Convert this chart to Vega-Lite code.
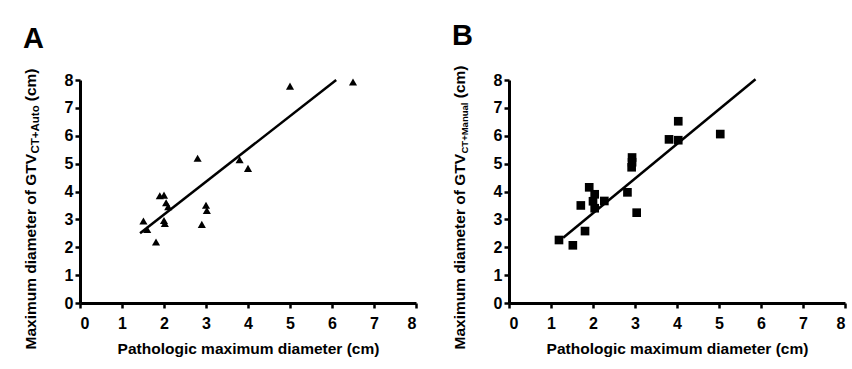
{
  "$schema": "https://vega.github.io/schema/vega-lite/v6.json",
  "background": "white",
  "padding": {"left": 23, "top": 22, "right": 0, "bottom": 0},
  "datasets": {
    "autoPts": [
      {"path": 5.0, "gtv": 7.78}, {"path": 6.5, "gtv": 7.93}, {"path": 2.8, "gtv": 5.19},
      {"path": 3.8, "gtv": 5.14}, {"path": 4.0, "gtv": 4.83}, {"path": 1.9, "gtv": 3.85},
      {"path": 2.0, "gtv": 3.87}, {"path": 2.05, "gtv": 3.6}, {"path": 2.1, "gtv": 3.45},
      {"path": 3.0, "gtv": 3.51}, {"path": 3.02, "gtv": 3.32}, {"path": 2.9, "gtv": 2.82},
      {"path": 1.51, "gtv": 2.94}, {"path": 1.6, "gtv": 2.64}, {"path": 2.0, "gtv": 2.96},
      {"path": 2.02, "gtv": 2.85}, {"path": 1.81, "gtv": 2.19}
    ],
    "autoFit": [{"path": 1.43, "gtv": 2.5}, {"path": 6.1, "gtv": 8.0}],
    "manPts": [
      {"path": 1.19, "gtv": 2.26}, {"path": 1.52, "gtv": 2.07}, {"path": 1.81, "gtv": 2.58},
      {"path": 1.71, "gtv": 3.5}, {"path": 1.91, "gtv": 4.15}, {"path": 2.04, "gtv": 3.9},
      {"path": 2.0, "gtv": 3.65}, {"path": 2.04, "gtv": 3.4}, {"path": 2.27, "gtv": 3.66},
      {"path": 2.82, "gtv": 3.97}, {"path": 3.04, "gtv": 3.24}, {"path": 2.93, "gtv": 5.22},
      {"path": 2.93, "gtv": 5.05}, {"path": 2.92, "gtv": 4.87}, {"path": 3.81, "gtv": 5.87},
      {"path": 4.03, "gtv": 5.84}, {"path": 4.03, "gtv": 6.52}, {"path": 5.03, "gtv": 6.06}
    ],
    "manFit": [{"path": 1.29, "gtv": 2.34}, {"path": 5.87, "gtv": 8.03}]
  },
  "config": {
    "view": {"stroke": null},
    "font": "Liberation Sans",
    "axis": {
      "grid": false,
      "labelOverlap": false,
      "domainColor": "black",
      "domainWidth": 3,
      "tickColor": "black",
      "tickWidth": 2.5,
      "tickSize": 5,
      "labelFont": "Liberation Sans",
      "labelFontWeight": "bold",
      "labelFontSize": 16,
      "labelColor": "black",
      "titleFont": "Liberation Sans",
      "titleFontWeight": "bold",
      "titleFontSize": 15.5,
      "titleColor": "black"
    },
    "axisX": {"labelPadding": 7, "titlePadding": 10},
    "title": {"font": "Liberation Sans", "fontWeight": "bold", "fontSize": 29, "color": "black", "anchor": "start", "frame": "bounds", "offset": 14}
  },
  "spacing": 34,
  "hconcat": [
    {
      "width": 336,
      "height": 223,
      "title": {"text": "A"},
      "resolve": {"scale": {"y": "shared"}, "axis": {"y": "independent"}},
      "layer": [
        {
          "data": {"name": "autoPts"},
          "mark": {"type": "point", "shape": "triangle-up", "filled": true, "color": "black", "opacity": 1, "size": 66},
          "encoding": {
            "x": {"field": "path", "type": "quantitative", "scale": {"domain": [0, 8], "nice": false}, "axis": {"values": [0,1,2,3,4,5,6,7,8], "title": "Pathologic maximum diameter (cm)"}},
            "y": {"field": "gtv", "type": "quantitative", "scale": {"domain": [0, 8], "nice": false}, "axis": {"orient": "left", "values": [0,1,2,3,4,5,6,7,8], "title": "Maximum diameter of GTV", "titleAngle": -90, "titleAlign": "left", "titleBaseline": "alphabetic", "titleX": -45, "titleY": 269}}
          }
        },
        {
          "data": {"name": "autoFit"},
          "mark": {"type": "line", "color": "black", "strokeWidth": 2.5},
          "encoding": {
            "x": {"field": "path", "type": "quantitative"},
            "y": {"field": "gtv", "type": "quantitative", "axis": {"orient": "left", "domain": false, "ticks": false, "labels": false, "title": "CT+Auto", "titleFontSize": 11.5, "titleAngle": -90, "titleAlign": "left", "titleBaseline": "alphabetic", "titleX": -42, "titleY": 73}}
          }
        },
        {
          "mark": {"type": "text", "text": "r=0.86", "font": "Liberation Sans", "fontWeight": "bold", "fontSize": 14, "color": "black"},
          "encoding": {
            "x": {"datum": 6.0},
            "y": {"datum": 2.35, "axis": {"orient": "left", "domain": false, "ticks": false, "labels": false, "title": " (cm)", "titleAngle": -90, "titleAlign": "right", "titleBaseline": "alphabetic", "titleX": -45, "titleY": -12}}
          }
        }
      ]
    },
    {
      "width": 336,
      "height": 223,
      "title": {"text": "B"},
      "resolve": {"scale": {"y": "shared"}, "axis": {"y": "independent"}},
      "layer": [
        {
          "data": {"name": "manPts"},
          "mark": {"type": "point", "shape": "square", "filled": true, "color": "black", "opacity": 1, "size": 75},
          "encoding": {
            "x": {"field": "path", "type": "quantitative", "scale": {"domain": [0, 8], "nice": false}, "axis": {"values": [0,1,2,3,4,5,6,7,8], "title": "Pathologic maximum diameter (cm)"}},
            "y": {"field": "gtv", "type": "quantitative", "scale": {"domain": [0, 8], "nice": false}, "axis": {"orient": "left", "values": [0,1,2,3,4,5,6,7,8], "title": "Maximum diameter of GTV", "titleAngle": -90, "titleAlign": "left", "titleBaseline": "alphabetic", "titleX": -45, "titleY": 269}}
          }
        },
        {
          "data": {"name": "manFit"},
          "mark": {"type": "line", "color": "black", "strokeWidth": 2.5},
          "encoding": {
            "x": {"field": "path", "type": "quantitative"},
            "y": {"field": "gtv", "type": "quantitative", "axis": {"orient": "left", "domain": false, "ticks": false, "labels": false, "title": "CT+Manual", "titleFontSize": 9.5, "titleAngle": -90, "titleAlign": "left", "titleBaseline": "alphabetic", "titleX": -42, "titleY": 73}}
          }
        },
        {
          "mark": {"type": "text", "text": "r=0.94", "font": "Liberation Sans", "fontWeight": "bold", "fontSize": 14, "color": "black"},
          "encoding": {
            "x": {"datum": 6.03},
            "y": {"datum": 1.36, "axis": {"orient": "left", "domain": false, "ticks": false, "labels": false, "title": " (cm)", "titleAngle": -90, "titleAlign": "right", "titleBaseline": "alphabetic", "titleX": -45, "titleY": -15}}
          }
        }
      ]
    }
  ]
}
